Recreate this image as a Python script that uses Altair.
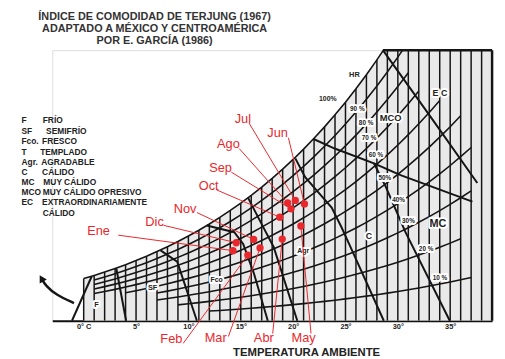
import altair as alt
import pandas as pd

# ---------------- data ----------------
# saturation vapour pressure (hPa) for 0..39 °C  (upper boundary of the chart)
temps = list(range(0, 40))
sat_vp = [6.11, 6.57, 7.06, 7.58, 8.13, 8.72, 9.35, 10.02, 10.73, 11.48,
          12.28, 13.12, 14.02, 14.97, 15.98, 17.04, 18.17, 19.37, 20.63, 21.96,
          23.37, 24.86, 26.43, 28.09, 29.83, 31.67, 33.61, 35.65, 37.80, 40.05,
          42.43, 44.93, 47.55, 50.30, 53.20, 56.23, 59.42, 62.76, 66.26, 69.93]

# relative humidity curves: level, first and last temperature drawn
rh_levels = [100, 90, 80, 70, 60, 50, 40, 30, 20, 10]
rh_start = [0, 1, 1, 1, 1, 4, 7, 7, 9, 12]
rh_end = [31, 31, 31, 32, 34, 36, 37, 37, 36, 37]
rh_label_text = ["90 %", "80 %", "70 %", "60 %", "50%", "40%", "30%", "20 %", "10 %"]
rh_label_t = [26.13, 26.97, 27.25, 27.91, 28.76, 30.07, 31.01, 32.70, 34.02]
rh_label_e = [30.65, 28.65, 26.51, 23.95, 20.67, 17.53, 14.40, 10.41, 6.13]

# isotherms every 1 °C
iso_temps = list(range(0, 39))

# comfort-zone boundaries (temperature, vapour pressure)
boundary_names = ["B1", "B2", "B3", "B4", "B5", "B6", "B7", "B8", "B9"]
boundary_t = [
    [-1.12, 0.76],
    [3.11, 4.05],
    [7.34, 8.93, 10.81],
    [11.75, 14.38, 15.23, 16.26, 17.58],
    [15.70, 17.11, 18.14, 20.40],
    [20.21, 21.15, 22.37, 23.68, 24.62, 25.56, 28.66],
    [21.90, 23.97, 27.72, 30.26, 37.12],
    [28.57, 33.08, 37.59],
    [27.72, 28.85, 30.73, 34.96],
]
boundary_e = [
    [0, 6.41],
    [7.6, 0],
    [10.2, 8.55, 0],
    [13.8, 12.83, 11.12, 6.84, 0],
    [17.8, 13.68, 10.69, 0],
    [23.52, 20.81, 18.67, 16.39, 13.54, 10.41, 0],
    [26.37, 24.95, 22.81, 21.10, 17.25],
    [39.2, 29.65, 19.96],
    [22.81, 19.39, 12.83, 0],
]

# zone labels
zone_text = ["F", "SF", "Fco", "Agr", "C", "MC", "MCO", "E C", "HR", "100%"]
zone_t = [1.23, 6.58, 12.69, 20.96, 27.25, 33.83, 29.32, 34.02, 25.85, 23.31]
zone_e = [2.28, 4.70, 5.84, 10.12, 12.26, 13.97, 29.37, 32.93, 35.64, 32.07]
zone_size = [7.5, 7.5, 7, 7, 9, 11, 9.5, 9, 7.5, 7]

# legend
legend_abbr = ["F", "SF", "Fco.", "T", "Agr.", "C", "MC", "MCO", "EC", ""]
legend_desc = ["FRÍO", "SEMIFRÍO", "FRESCO", "TEMPLADO", "AGRADABLE", "CÁLIDO",
               "MUY CÁLIDO", "MUY CÁLIDO OPRESIVO", "EXTRAORDINARIAMENTE", "CÁLIDO"]
legend_e = [29.04, 27.51, 25.99, 24.42, 23.0, 21.57, 20.14, 18.62, 17.19, 15.6]
legend_abbr_t = -5.94
legend_desc_t = [-3.91, -3.59, -3.97, -4.16, -4.06, -3.97, -3.85, -3.91, -3.97, -3.91]

# curved arrow at left
arrow_t = [-0.93, -2.62, -3.66, -4.03]
arrow_e = [2.57, 3.71, 5.13, 6.13]

# monthly climate points
months = ["Ene", "Feb", "Mar", "Abr", "May", "Jun", "Jul", "Ago", "Sep", "Oct", "Nov", "Dic"]
month_temp = [14.26, 15.67, 16.84, 18.96, 20.74, 21.08, 20.21, 19.48, 19.80, 18.73, 16.23, 14.57]
month_vp = [10.16, 9.51, 10.55, 11.83, 13.73, 16.92, 17.43, 17.06, 16.21, 15.01, 11.79, 11.30]
label_temp = [1.42, 8.37, 12.60, 17.20, 21.0, 18.52, 15.20, 13.82, 13.07, 11.94, 9.68, 6.77]
label_vp = [12.97, -2.7, -2.55, -2.55, -2.55, 27.23, 29.22, 25.66, 22.10, 19.53, 16.11, 14.26]
leader_temp = [3.30, 9.50, 13.82, 18.05, 21.71, 19.55, 15.79, 14.85, 14.10, 12.69, 10.81, 7.62]
leader_vp = [12.40, -3.28, -2.28, -1.85, -1.85, 26.51, 28.65, 24.95, 21.53, 18.96, 15.68, 13.83]

title_lines = ["ÍNDICE DE COMODIDAD DE TERJUNG (1967)",
               "ADAPTADO A MÉXICO Y CENTROAMÉRICA",
               "POR E. GARCÍA (1986)"]
tick_values = [0, 5, 10, 15, 20, 25, 30, 35]

# ---------------- tables ----------------
sat_df = pd.DataFrame({"T": temps, "e": sat_vp})
iso_df = pd.DataFrame({"T": iso_temps, "zero": 0.0, "top": [sat_vp[t] for t in iso_temps]})
rh_rows = []
for lvl, s, f in zip(rh_levels, rh_start, rh_end):
    for t in range(s, f + 1):
        rh_rows.append({"rh": lvl, "T": t, "e": lvl / 100 * sat_vp[t]})
rh_df = pd.DataFrame(rh_rows)
rhlab_df = pd.DataFrame({"txt": rh_label_text, "T": rh_label_t, "e": rh_label_e})
b_rows = []
for name, ts, es in zip(boundary_names, boundary_t, boundary_e):
    for i, (t, e) in enumerate(zip(ts, es)):
        b_rows.append({"name": name, "i": i, "T": t, "e": e})
b_df = pd.DataFrame(b_rows)
frame_df = pd.DataFrame({"name": ["right", "top"], "T": [39, 28.57], "T2": [39, 39],
                         "e": [0, 39.2], "e2": [39.2, 39.2]})
zone_df = pd.DataFrame({"txt": zone_text, "T": zone_t, "e": zone_e, "s": zone_size})
leg_df = pd.DataFrame({"abbr": legend_abbr, "desc": legend_desc, "e": legend_e,
                       "Ta": legend_abbr_t, "Td": legend_desc_t})
arrow_df = pd.DataFrame({"i": range(len(arrow_t)), "T": arrow_t, "e": arrow_e})
head_df = pd.DataFrame({"T": [arrow_t[-1]], "e": [arrow_e[-1]]})
m_df = pd.DataFrame({"m": months, "T": month_temp, "e": month_vp,
                     "lT": label_temp, "le": label_vp, "sT": leader_temp, "se": leader_vp})

# ---------------- encodings ----------------
xs = alt.Scale(domain=[-3, 39], nice=False, zero=False)
ys = alt.Scale(domain=[0, 39.2], nice=False, zero=False)
xaxis = alt.Axis(values=tick_values,
                 labelExpr="datum.value == 0 ? '0° C' : datum.value + '°'",
                 ticks=False, grid=False, domain=True, domainColor="#111", domainWidth=2,
                 labelFont="Liberation Sans", labelFontSize=7.5, labelFontWeight="bold",
                 labelColor="#222", labelPadding=2,
                 title="TEMPERATURA AMBIENTE", titleFont="Liberation Sans",
                 titleFontSize=11.5, titleFontWeight="bold", titleColor="#222",
                 titleX=258, titleY=26, titleBaseline="top", titleAlign="center")


def X(f):
    return alt.X(f, type="quantitative", scale=xs, axis=xaxis)


def Y(f):
    return alt.Y(f, type="quantitative", scale=ys, axis=None)


RED = "#e8282c"
INK = "#151515"

area = alt.Chart(sat_df).mark_area(color="#e9e9e9", clip=True).encode(x=X("T"), y=Y("e"))
iso = alt.Chart(iso_df).mark_rule(color=INK, strokeWidth=1.5, clip=True).encode(
    x=X("T"), y=Y("zero"), y2="top")
rh = alt.Chart(rh_df).mark_line(color=INK, strokeWidth=1.6, clip=True).encode(
    x=X("T"), y=Y("e"), detail="rh:N")
frame = alt.Chart(frame_df).mark_rule(color=INK, strokeWidth=2.5).encode(
    x=X("T"), x2="T2", y=Y("e"), y2="e2")
bounds = alt.Chart(b_df).mark_line(color=INK, strokeWidth=2).encode(
    x=X("T"), y=Y("e"), detail="name:N", order="i:Q")

rh_halo = alt.Chart(rhlab_df).mark_text(font="Liberation Sans", fontSize=6.5, fontWeight="bold",
                                        color="white", stroke="white", strokeWidth=4,
                                        strokeJoin="round").encode(
    x=X("T"), y=Y("e"), text="txt:N")
rh_txt = alt.Chart(rhlab_df).mark_text(font="Liberation Sans", fontSize=6.5, fontWeight="bold",
                                       color="#222").encode(x=X("T"), y=Y("e"), text="txt:N")
zone_halo = alt.Chart(zone_df).mark_text(font="Liberation Sans", fontWeight="bold",
                                         color="white", stroke="white", strokeWidth=4,
                                         strokeJoin="round").encode(
    x=X("T"), y=Y("e"), text="txt:N", size=alt.Size("s:Q", scale=None, legend=None))
zone_txt = alt.Chart(zone_df).mark_text(font="Liberation Sans", fontWeight="bold",
                                        color="#222").encode(
    x=X("T"), y=Y("e"), text="txt:N", size=alt.Size("s:Q", scale=None, legend=None))

leg_a = alt.Chart(leg_df).mark_text(font="Liberation Sans", fontSize=8.5, fontWeight="bold",
                                    color="#222", align="left").encode(
    x=X("Ta"), y=Y("e"), text="abbr:N")
leg_d = alt.Chart(leg_df).mark_text(font="Liberation Sans", fontSize=8.5, fontWeight="bold",
                                    color="#222", align="left").encode(
    x=X("Td"), y=Y("e"), text="desc:N")

arrow = alt.Chart(arrow_df).mark_line(color=INK, strokeWidth=2.5, interpolate="basis").encode(
    x=X("T"), y=Y("e"), order="i:Q")
head = alt.Chart(head_df).mark_point(shape="triangle-up", filled=True, color=INK, opacity=1,
                                     size=70, angle=330).encode(x=X("T"), y=Y("e"))

leaders = alt.Chart(m_df).mark_rule(color=RED, strokeWidth=1).encode(
    x=X("sT"), y=Y("se"), x2="T", y2="e")
points = alt.Chart(m_df).mark_circle(color=RED, size=55, opacity=1).encode(x=X("T"), y=Y("e"))
mlabels = alt.Chart(m_df).mark_text(color=RED, font="Liberation Sans", fontSize=13).encode(
    x=X("lT"), y=Y("le"), text="m:N")

chart = alt.layer(area, iso, rh, frame, bounds, rh_halo, rh_txt, zone_halo, zone_txt,
                  leg_a, leg_d, arrow, head, leaders, points, mlabels).properties(
    width=447, height=275,
    autosize=alt.AutoSizeParams(type="none"),
    padding={"left": 45, "top": 40, "right": 5, "bottom": 36},
    title=alt.TitleParams(text=title_lines, anchor="start", align="center", frame="group",
                          dx=104, offset=0, font="Liberation Sans", fontSize=11,
                          fontWeight="bold", color="#333", lineHeight=12.5),
).configure_view(stroke=None).configure(background="white")

chart.save("out.html", embed_options={"renderer": "svg", "actions": False})
